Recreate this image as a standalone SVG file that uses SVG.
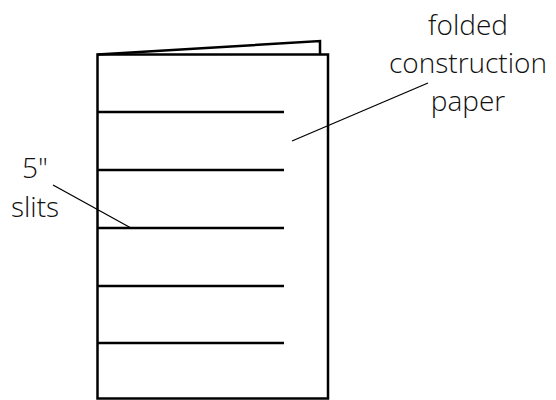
<svg xmlns="http://www.w3.org/2000/svg" width="556" height="400" viewBox="0 0 556 400">
<style>
.edge{stroke:#000;stroke-width:2.5;fill:none;stroke-linejoin:miter}
.slit{stroke:#000;stroke-width:2.5;fill:none}
.lead{stroke:#000;stroke-width:1.3;fill:none}
.lbl{font-family:"Open Sans","Liberation Sans",sans-serif;font-weight:300;font-size:28px;fill:#111;text-anchor:middle}
</style>
<rect width="556" height="400" fill="#fff"/>
<g id="paper">
<polyline class="edge" points="97.5,54.5 320,41 320,54.5"/>
<rect class="edge" x="97.5" y="54.5" width="230.5" height="344"/>
</g>
<g id="slits">
<line class="slit" x1="97.5" y1="112" x2="284" y2="112"/>
<line class="slit" x1="97.5" y1="170" x2="284" y2="170"/>
<line class="slit" x1="97.5" y1="228" x2="284" y2="228"/>
<line class="slit" x1="97.5" y1="286" x2="284" y2="286"/>
<line class="slit" x1="97.5" y1="343" x2="284" y2="343"/>
</g>
<g id="connectors">
<line class="lead" x1="53" y1="185" x2="131" y2="228"/>
<line class="lead" x1="428" y1="83" x2="292" y2="141"/>
</g>
<g id="label-paper">
<text class="lbl" x="468" y="35">folded</text>
<text class="lbl" x="468" y="73">construction</text>
<text class="lbl" x="468" y="111">paper</text>
</g>
<g id="label-slits">
<text class="lbl" x="35" y="178">5"</text>
<text class="lbl" x="35" y="217">slits</text>
</g>
</svg>
